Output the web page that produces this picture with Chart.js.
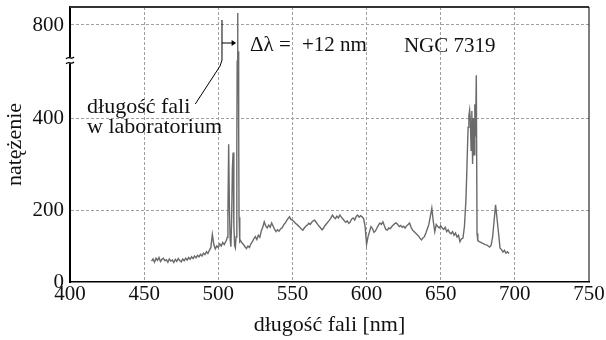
<!DOCTYPE html>
<html lang="pl">
<head>
    <meta charset="UTF-8">
    <title>NGC 7319 widmo</title>
    <script src="https://cdn.jsdelivr.net/npm/chart.js"></script>
    <style>
        body {
            margin: 0;
            padding: 0;
            background: #ffffff;
        }
        .chart-box {
            position: relative;
            width: 606px;
            height: 340px;
        }
    </style>
</head>
<body>
    <div class="chart-box">
        <canvas id="spectrum"></canvas>
    </div>

    <script>
        // wavelength [nm] and intensity
        const wavelengthNm = [
            455, 456, 457, 458, 459, 460, 461, 462, 463, 464,
            465, 466, 467, 468, 469, 470, 471, 472, 473, 474,
            475, 476, 477, 478, 479, 480, 481, 482, 483, 484,
            485, 486, 487, 488, 489, 490, 491, 492, 493, 494,
            495, 496, 497, 498, 499, 500, 501, 502, 503, 504,
            505, 505.5, 506, 506.5, 507, 507.5, 508, 508.5, 509, 509.5,
            510, 510.5, 511, 511.5, 512, 512.5, 512.75, 513, 513.25, 513.5,
            513.75, 514, 514.5,
            515, 516, 517, 518, 519, 520, 521, 522, 523, 524,
            525, 526, 527, 528, 529, 530, 531, 532, 533, 534,
            535, 536, 537, 538, 539, 540, 541, 542, 543, 544,
            545, 546, 547, 548, 549, 550, 551, 552, 553, 554,
            555, 556, 557, 558, 559, 560, 561, 562, 563, 564,
            565, 566, 567, 568, 569, 570, 571, 572, 573, 574,
            575, 576, 577, 578, 579, 580, 581, 582, 583, 584,
            585, 586, 587, 588, 589, 590, 591, 592, 593, 594,
            595, 596, 597, 598, 599, 600, 601, 602, 603, 604,
            605, 606, 607, 608, 609, 610, 611, 612, 613, 614,
            615, 616, 617, 618, 619, 620, 621, 622, 623, 624,
            625, 626, 627, 628, 629, 630, 631, 632, 633, 634,
            635, 636, 637, 638, 639, 640, 641, 642, 643, 644,
            645, 646, 647, 648, 649, 650, 651, 652, 653, 654,
            655, 656, 657, 658, 659, 660, 661, 662, 663, 664,
            665, 666,
            667, 667.5, 668, 668.5, 669, 669.5, 670, 670.5, 671, 671.5,
            672, 672.5, 673, 673.5, 674, 674.5,
            675, 676, 677, 678, 679, 680, 681, 682, 683, 684,
            685, 686, 687, 688, 689, 690, 691, 692, 693, 694,
            695, 696
        ];
        const intensity = [
            58, 64, 55, 66, 60, 68, 57, 63, 66, 59,
            62, 55, 64, 58, 61, 54, 63, 57, 65, 60,
            56, 64, 59, 66, 61, 68, 63, 70, 65, 72,
            67, 74, 70, 77, 72, 80, 76, 84, 79, 88,
            96, 132, 104, 92, 100, 96, 106, 100, 110, 104,
            112, 116, 124, 190, 343, 205, 118, 98, 170, 290,
            325, 160, 102, 95, 125, 340, 560, 826, 500, 700,
            380, 180, 112,
            115, 108, 104, 98, 93, 100, 96, 106, 112, 120,
            126, 118, 130, 124, 142, 152, 167, 156, 150, 158,
            152, 164, 155, 146, 140, 145, 141, 148, 150, 158,
            163, 170, 176, 181, 174, 172, 168, 163, 160, 156,
            152, 147, 144, 150, 155, 158, 163, 160, 166, 170,
            172, 166, 160, 155, 150, 145, 150, 157, 162, 167,
            172, 178, 186, 180, 176, 183, 178, 186, 180, 175,
            170, 166, 170, 163, 167, 175, 178, 172, 182, 186,
            180, 184, 181, 176, 154, 104, 126, 140, 154, 148,
            138, 142, 150, 158, 164, 160, 167, 156, 146, 144,
            150, 148, 154, 158, 162, 164, 160, 154, 157, 152,
            155, 150, 156, 160, 164, 152, 144, 140, 136, 132,
            128, 122, 117, 122, 126, 136, 148, 160, 182, 204,
            168, 140, 160, 154, 150, 156, 150, 146, 152, 140,
            145, 137, 134, 140, 130, 136, 125, 130, 112, 120,
            122, 154,
            222, 272, 330, 380, 405, 417, 395, 330, 415, 300,
            400, 320, 430, 360, 493, 135,
            115, 112, 110, 108, 106, 104, 103, 100, 97, 102,
            125, 170, 211, 175, 136, 94, 90, 83, 88, 80,
            84, 79
        ];
        const xTicks = [400, 450, 500, 550, 600, 650, 700, 750];
        const yTicks = [0, 200, 400, 800];

        // broken y axis: 520..750 squeezed into a small gap
        function toAxis(v) {
            if (v <= 200) return v * 0.36;
            if (v <= 520) return 72 + (v - 200) * 0.46;
            if (v <= 750) return 219 + (v - 520) * 15 / 230;
            return 234 + (v - 750) * 0.46;
        }

        const FONT = '"Liberation Serif", "Times New Roman", serif';
        const points = wavelengthNm.map((w, i) => ({ x: w, y: toAxis(intensity[i]) }));

        const annotations = {
            id: 'annotations',
            afterDatasetsDraw(chart) {
                const { ctx, chartArea, scales: { x, y } } = chart;
                const px = v => x.getPixelForValue(v);
                const py = v => y.getPixelForValue(v);

                ctx.save();
                // frame top + right
                ctx.strokeStyle = '#333';
                ctx.lineWidth = 2;
                ctx.beginPath();
                ctx.moveTo(chartArea.left, chartArea.top);
                ctx.lineTo(chartArea.right, chartArea.top);
                ctx.stroke();
                ctx.strokeStyle = '#000';
                ctx.lineWidth = 1;
                ctx.beginPath();
                ctx.moveTo(chartArea.right, chartArea.top);
                ctx.lineTo(chartArea.right, chartArea.bottom);
                ctx.stroke();

                // axis break mark
                const by = py(toAxis(560));
                const bx = chartArea.left;
                ctx.fillStyle = '#fff';
                ctx.fillRect(bx - 3, by - 3, 6, 6);
                ctx.strokeStyle = '#000';
                ctx.lineWidth = 1.2;
                [-2.5, 2.5].forEach(d => {
                    ctx.beginPath();
                    ctx.moveTo(bx - 4, by + d + 1);
                    ctx.bezierCurveTo(bx - 1, by + d - 3, bx + 1, by + d + 3, bx + 4, by + d - 1);
                    ctx.stroke();
                });

                // lab wavelength marker
                ctx.lineWidth = 1;
                ctx.beginPath();
                ctx.moveTo(px(502.5), py(262));
                ctx.lineTo(px(502.5), py(222));
                ctx.lineTo(px(501.2), py(216));
                ctx.lineTo(px(484.5), py(178));
                ctx.stroke();

                // shift arrow
                const ay = py(239);
                ctx.beginPath();
                ctx.moveTo(px(502.5), ay);
                ctx.lineTo(px(509.5), ay);
                ctx.stroke();
                ctx.fillStyle = '#000';
                ctx.beginPath();
                ctx.moveTo(px(512), ay);
                ctx.lineTo(px(509), ay - 3);
                ctx.lineTo(px(509), ay + 3);
                ctx.closePath();
                ctx.fill();

                // texts
                ctx.fillStyle = '#111';
                ctx.font = '22px ' + FONT;
                ctx.textBaseline = 'middle';
                ctx.textAlign = 'left';
                ctx.fillText('długość fali', px(411.5), py(175));
                ctx.fillText('w laboratorium', px(411.5), py(155));
                ctx.font = '21px ' + FONT;
                ctx.fillText('\u0394\u03bb =', px(521.4), py(237));
                ctx.fillText('+12 nm', px(556.4), py(237));
                ctx.fillText('NGC 7319', px(625.2), py(236));
                ctx.restore();
            }
        };

        new Chart(document.getElementById('spectrum').getContext('2d'), {
            type: 'line',
            data: {
                datasets: [{
                    data: points,
                    borderColor: '#6a6a6a',
                    borderWidth: 1.4,
                    pointRadius: 0,
                    tension: 0,
                    fill: false
                }]
            },
            options: {
                responsive: true,
                maintainAspectRatio: false,
                animation: false,
                layout: { padding: { top: 7, right: 17, left: 0, bottom: 0 } },
                plugins: {
                    legend: { display: false },
                    tooltip: { enabled: false }
                },
                scales: {
                    x: {
                        type: 'linear',
                        min: 400,
                        max: 750,
                        afterBuildTicks: s => { s.ticks = xTicks.map(v => ({ value: v })); },
                        afterFit: s => { s.height = 58; s.paddingLeft = 0; s.paddingRight = 0; },
                        ticks: {
                            color: '#111',
                            padding: 0,
                            maxRotation: 0,
                            font: { family: FONT, size: 21 }
                        },
                        grid: {
                            drawTicks: false,
                            color: ctx => (ctx.tick && (ctx.tick.value === 400 || ctx.tick.value === 750)) ? 'rgba(0,0,0,0)' : '#a0a0a0',
                            lineWidth: 1
                        },
                        border: { color: '#000', width: 1.5, dash: [3, 2] },
                        title: {
                            display: true,
                            text: 'długość fali [nm]',
                            color: '#111',
                            padding: { top: 0, bottom: 2 },
                            font: { family: FONT, size: 22 }
                        }
                    },
                    y: {
                        type: 'linear',
                        min: 0,
                        max: 275,
                        afterBuildTicks: s => { s.ticks = yTicks.map(v => ({ value: toAxis(v) })); },
                        afterFit: s => { s.width = 70; s.paddingTop = 0; s.paddingBottom = 0; },
                        ticks: {
                            color: '#111',
                            padding: 6,
                            font: { family: FONT, size: 21 },
                            callback: (val, i) => String(yTicks[i])
                        },
                        grid: {
                            drawTicks: false,
                            color: ctx => (ctx.tick && ctx.tick.value === 0) ? 'rgba(0,0,0,0)' : '#a0a0a0',
                            lineWidth: 1
                        },
                        border: { color: '#000', width: 2, dash: [3, 2] },
                        title: {
                            display: true,
                            text: 'natężenie',
                            color: '#111',
                            padding: { top: 2, bottom: 0 },
                            font: { family: FONT, size: 22 }
                        }
                    }
                }
            },
            plugins: [annotations]
        });
    </script>
</body>
</html>
